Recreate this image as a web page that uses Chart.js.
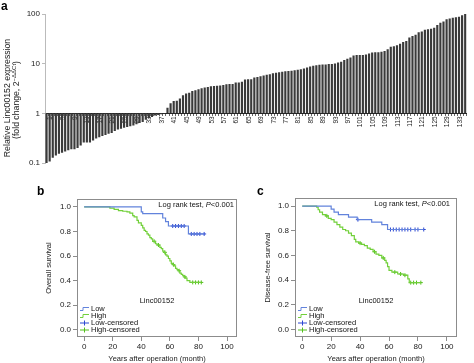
<!DOCTYPE html>
<html lang="en">
<head>
<meta charset="utf-8">
<title>Linc00152 expression and survival</title>
<script src="https://cdn.jsdelivr.net/npm/chart.js@4.4.1/dist/chart.umd.min.js"></script>
<style>
  body { margin: 0; background: #fff; font-family: "Liberation Sans", Arial, sans-serif; }
  #wrap { position: relative; width: 474px; height: 363px; overflow: hidden; }
  canvas { position: absolute; }
  .tag { position: absolute; font-weight: bold; font-size: 12px; line-height: 12px; color: #000; }
</style>
</head>
<body>
<div id="wrap">
  <canvas id="barChart" width="474" height="170" style="left:0;top:0"></canvas>
  <canvas id="osChart" width="242" height="183" style="left:0;top:180px"></canvas>
  <canvas id="dfsChart" width="234" height="183" style="left:240px;top:180px"></canvas>
  <div class="tag" style="left:1px;top:0px">a</div>
  <div class="tag" style="left:37px;top:185px">b</div>
  <div class="tag" style="left:257px;top:185px">c</div>
</div>

<script>
// ---- panel a: relative expression per patient (log scale) ----
const barLabels = [];
for (let i = 1; i <= 136; i++) barLabels.push(String(i));

const barValues = [
  0.10, 0.107, 0.127, 0.142, 0.153, 0.16, 0.17, 0.18, 0.19, 0.19,
  0.20, 0.226, 0.26, 0.26, 0.26, 0.285, 0.31, 0.33, 0.35, 0.365,
  0.39, 0.40, 0.44, 0.47, 0.49, 0.51, 0.53, 0.55, 0.57, 0.60,
  0.64, 0.67, 0.74, 0.80, 0.84, 0.90, 0.93, 0.96, 0.98, 1.3,
  1.6, 1.77, 1.8, 1.98, 2.3, 2.5, 2.6, 2.8, 2.9, 3.05,
  3.2, 3.3, 3.4, 3.5, 3.55, 3.6, 3.65, 3.7, 3.85, 3.9,
  3.9, 4.2, 4.2, 4.3, 4.8, 4.85, 4.85, 5.25, 5.4, 5.6,
  5.8, 5.95, 6.1, 6.4, 6.6, 6.7, 6.9, 7.0, 7.1, 7.2,
  7.4, 7.5, 7.7, 8.0, 8.4, 8.8, 9.1, 9.3, 9.5, 9.6,
  9.6, 9.8, 9.9, 10.1, 10.5, 10.9, 11.8, 12.5, 13.3, 14.6,
  15.0, 15.0, 15.0, 15.3, 16.0, 16.8, 17, 17, 17.3, 18,
  19.6, 21.8, 22.5, 23.6, 25.2, 27.3, 28.5, 33.8, 35.9, 38,
  43, 44.5, 48, 49.5, 50.5, 52.7, 60, 66.6, 71, 78.5,
  81, 84, 86, 88, 94, 100
];
const barTicks = [0.1, 1, 10, 100];

// ---- panels b and c: Kaplan-Meier curves ----
const monthTicks = [0, 20, 40, 60, 80, 100];
const survTicks = [0, 0.2, 0.4, 0.6, 0.8, 1.0];

// b: overall survival
const osLowMonths = [0, 40, 41, 55, 57, 59, 73, 84];
const osLowSurv = [1.0, 0.96, 0.945, 0.91, 0.88, 0.845, 0.78, 0.78];
const osHighMonths = [0, 18, 21, 24, 27, 30, 32, 34, 35, 37, 38, 40, 41, 42, 43, 44, 45, 46, 47, 48,
  50, 51, 53, 54, 55, 56, 57, 58, 59, 60, 61, 62, 63, 64, 65, 66, 67, 68, 69, 70, 71, 72, 74, 82];
const osHighSurv = [1.0, 0.99, 0.98, 0.97, 0.965, 0.96, 0.95, 0.93, 0.92, 0.89, 0.87, 0.85, 0.83, 0.81, 0.80, 0.78, 0.77, 0.75, 0.74, 0.72,
  0.70, 0.69, 0.67, 0.66, 0.64, 0.63, 0.61, 0.60, 0.58, 0.56, 0.54, 0.53, 0.52, 0.50, 0.49, 0.48, 0.46, 0.45, 0.44, 0.43, 0.42, 0.40, 0.385, 0.385];
const osLowCensMonths = [62, 64, 66, 68, 70, 75, 77, 79, 81, 84];
const osLowCensSurv = [0.845, 0.845, 0.845, 0.845, 0.845, 0.78, 0.78, 0.78, 0.78, 0.78];
const osHighCensMonths = [49, 52, 56.5, 62.5, 66.5, 70.5, 76, 78, 80, 82];
const osHighCensSurv = [0.72, 0.69, 0.63, 0.53, 0.48, 0.43, 0.385, 0.385, 0.385, 0.385];

// c: disease-free survival
const dfsLowMonths = [0, 20, 22, 25, 32, 38, 48, 55, 59, 84];
const dfsLowSurv = [1.0, 0.975, 0.95, 0.93, 0.91, 0.89, 0.87, 0.85, 0.81, 0.81];
const dfsHighMonths = [0, 10, 11, 12, 14, 16, 18, 20, 22, 24, 26, 28, 30, 32, 34, 36, 37, 39, 41, 43,
  45, 47, 49, 51, 53, 55, 57, 58, 59, 60, 62, 66, 70, 73, 74, 82];
const dfsHighSurv = [1.0, 0.99, 0.97, 0.95, 0.93, 0.92, 0.90, 0.89, 0.87, 0.85, 0.83, 0.81, 0.80, 0.78, 0.76, 0.73, 0.71, 0.70, 0.69, 0.68,
  0.66, 0.65, 0.63, 0.61, 0.60, 0.58, 0.56, 0.54, 0.51, 0.48, 0.465, 0.45, 0.44, 0.41, 0.38, 0.38];
const dfsLowCensMonths = [38.5, 61, 63, 65, 67, 69, 71, 73, 75, 78, 80, 84];
const dfsLowCensSurv = [0.89, 0.81, 0.81, 0.81, 0.81, 0.81, 0.81, 0.81, 0.81, 0.81, 0.81, 0.81];
const dfsHighCensMonths = [17, 40, 50, 56, 64, 68, 71, 75, 77, 79, 82];
const dfsHighCensSurv = [0.92, 0.70, 0.63, 0.58, 0.465, 0.45, 0.44, 0.38, 0.38, 0.38, 0.38];

const lowColor = '#6283dc';
const highColor = '#72d03a';
const lowCensColor = '#2b47d2';
const highCensColor = '#52bf1c';
const FONT = '"Liberation Sans", Arial, sans-serif';

Chart.defaults.font.family = FONT;
Chart.defaults.color = '#222';

// y title of panel a, with the superscript exponent
const expTitle = {
  id: 'expTitle',
  afterDraw(chart) {
    const ctx = chart.ctx;
    ctx.save();
    ctx.fillStyle = '#222';
    ctx.textBaseline = 'middle';
    ctx.textAlign = 'center';
    ctx.translate(8, 98);
    ctx.rotate(-Math.PI / 2);
    ctx.font = '8.7px ' + FONT;
    ctx.fillText('Relative Linc00152 expression', 0, 0);
    ctx.restore();

    ctx.save();
    ctx.fillStyle = '#222';
    ctx.textBaseline = 'middle';
    ctx.textAlign = 'left';
    ctx.translate(17, 100);
    ctx.rotate(-Math.PI / 2);
    const big = '8.7px ' + FONT, small = '6px ' + FONT;
    ctx.font = big;
    const w1 = ctx.measureText('(fold change, 2').width;
    const w3 = ctx.measureText(')').width;
    ctx.font = small;
    const w2 = ctx.measureText('\u2212\u0394\u0394Ct').width;
    let x = -(w1 + w2 + w3) / 2;
    ctx.font = big;
    ctx.fillText('(fold change, 2', x, 0);
    x += w1;
    ctx.font = small;
    ctx.fillText('\u2212\u0394\u0394Ct', x, -3);
    x += w2;
    ctx.font = big;
    ctx.fillText(')', x, 0);
    ctx.restore();
  }
};

new Chart(document.getElementById('barChart'), {
  type: 'bar',
  data: {
    labels: barLabels,
    datasets: [{
      data: barValues.map(v => [1, v]),
      backgroundColor: '#3a3a3a',
      borderWidth: 0,
      barPercentage: 0.7,
      categoryPercentage: 1.0
    }]
  },
  options: {
    responsive: false,
    animation: false,
    events: [],
    layout: { padding: { left: 0, top: 14, right: 0, bottom: 7 } },
    plugins: { legend: { display: false }, tooltip: { enabled: false } },
    scales: {
      x: {
        type: 'category',
        position: { y: 1 },
        grid: { display: true, drawOnChartArea: false, tickLength: 2, color: '#666' },
        border: { color: '#222' },
        ticks: {
          autoSkip: false,
          minRotation: 90,
          maxRotation: 90,
          padding: 1,
          font: { size: 6.5 },
          color: '#222',
          showLabelBackdrop: true,
          backdropColor: '#fff',
          backdropPadding: 0,
          callback: (v, i) => (i % 4 === 0 ? barLabels[i] : '')
        }
      },
      y: {
        type: 'logarithmic',
        min: 0.1,
        max: 100,
        afterBuildTicks: s => { s.ticks = barTicks.map(v => ({ value: v })); },
        afterFit: s => { s.width = 45; },
        grid: { display: true, drawOnChartArea: false, tickLength: 3, color: '#bbb' },
        border: { color: '#bbb' },
        ticks: { font: { size: 8 }, color: '#222', padding: 2, callback: v => String(v) }
      }
    }
  },
  plugins: [expTitle]
});

// frame, log rank note, label and legend of the survival panels
const kmDecor = {
  id: 'kmDecor',
  afterDraw(chart, args, o) {
    const ctx = chart.ctx;
    const a = chart.chartArea;
    ctx.save();
    ctx.strokeStyle = '#8c8c8c';
    ctx.lineWidth = 1;
    ctx.strokeRect(Math.round(a.left) + 0.5, Math.round(a.top) + 0.5,
      Math.round(a.right - a.left) - 1, Math.round(a.bottom - a.top) - 1);

    ctx.fillStyle = '#111';
    ctx.textBaseline = 'middle';
    ctx.textAlign = 'left';
    const normal = '7.5px ' + FONT, italic = 'italic 7.5px ' + FONT;
    ctx.font = normal;
    const w1 = ctx.measureText('Log rank test, ').width;
    const w3 = ctx.measureText('<0.001').width;
    ctx.font = italic;
    const w2 = ctx.measureText('P').width;
    let x = a.right - o.logRight - (w1 + w2 + w3);
    const y = a.top + 6;
    ctx.font = normal;
    ctx.fillText('Log rank test, ', x, y);
    x += w1;
    ctx.font = italic;
    ctx.fillText('P', x, y);
    x += w2;
    ctx.font = normal;
    ctx.fillText('<0.001', x, y);

    ctx.textAlign = 'center';
    ctx.fillText('Linc00152', (a.left + a.right) / 2, a.bottom - 36);

    const rows = [
      { text: 'Low', color: lowColor, cens: false },
      { text: 'High', color: highColor, cens: false },
      { text: 'Low-censored', color: lowCensColor, cens: true },
      { text: 'High-censored', color: highCensColor, cens: true }
    ];
    ctx.textAlign = 'left';
    rows.forEach((r, i) => {
      const ry = a.bottom - 28 + i * 7;
      const x0 = a.left + 3;
      ctx.strokeStyle = r.color;
      ctx.lineWidth = 1;
      ctx.beginPath();
      if (r.cens) {
        ctx.moveTo(x0, ry);
        ctx.lineTo(x0 + 9, ry);
        ctx.moveTo(x0 + 4.5, ry - 2.5);
        ctx.lineTo(x0 + 4.5, ry + 2.5);
      } else {
        ctx.moveTo(x0, ry + 1.5);
        ctx.lineTo(x0 + 3, ry + 1.5);
        ctx.lineTo(x0 + 3, ry - 1.5);
        ctx.lineTo(x0 + 9, ry - 1.5);
      }
      ctx.stroke();
      ctx.fillStyle = '#111';
      ctx.fillText(r.text, a.left + 14, ry);
    });
    ctx.restore();
  }
};

function toPoints(xs, ys) {
  return xs.map((x, i) => ({ x: x, y: ys[i] }));
}

function drawKM(canvasId, s) {
  return new Chart(document.getElementById(canvasId), {
    type: 'scatter',
    data: {
      datasets: [
        { label: 'Low', data: toPoints(s.lowT, s.lowS), showLine: true, stepped: true,
          borderColor: lowColor, borderWidth: 1.2, pointRadius: 0 },
        { label: 'High', data: toPoints(s.highT, s.highS), showLine: true, stepped: true,
          borderColor: highColor, borderWidth: 1.2, pointRadius: 0 },
        { label: 'Low-censored', data: toPoints(s.lowCT, s.lowCS), pointStyle: 'cross',
          pointRadius: 2, borderColor: lowCensColor, borderWidth: 1 },
        { label: 'High-censored', data: toPoints(s.highCT, s.highCS), pointStyle: 'cross',
          pointRadius: 2, borderColor: highCensColor, borderWidth: 1 }
      ]
    },
    options: {
      responsive: false,
      animation: false,
      events: [],
      layout: { padding: s.padding },
      plugins: {
        legend: { display: false },
        tooltip: { enabled: false },
        kmDecor: { logRight: s.logRight }
      },
      scales: {
        x: {
          type: 'linear',
          min: -5,
          max: 107,
          afterBuildTicks: sc => { sc.ticks = monthTicks.map(v => ({ value: v })); },
          afterFit: sc => { sc.height = 26; },
          grid: { drawOnChartArea: false, tickLength: 4, color: '#8c8c8c' },
          border: { display: false },
          ticks: { font: { size: 8 }, color: '#222', padding: 1, maxRotation: 0 },
          title: { display: true, text: 'Years after operation (month)', font: { size: 7.5 },
            color: '#222', padding: { top: 0, bottom: 0 } }
        },
        y: {
          min: -0.06,
          max: 1.065,
          afterBuildTicks: sc => { sc.ticks = survTicks.map(v => ({ value: v })); },
          afterFit: sc => { sc.width = s.yWidth; },
          grid: { drawOnChartArea: false, tickLength: 4, color: '#8c8c8c' },
          border: { display: false },
          ticks: { font: { size: 8 }, color: '#222', padding: 2, callback: v => v.toFixed(1) },
          title: { display: true, text: s.yTitle, font: { size: 7.5 }, color: '#222',
            padding: { top: 4, bottom: 0 } }
        }
      }
    },
    plugins: [kmDecor]
  });
}

drawKM('osChart', {
  lowT: osLowMonths, lowS: osLowSurv, highT: osHighMonths, highS: osHighSurv,
  lowCT: osLowCensMonths, lowCS: osLowCensSurv, highCT: osHighCensMonths, highCS: osHighCensSurv,
  yTitle: 'Overall survival', yWidth: 37, logRight: 3,
  padding: { left: 40, right: 2, top: 19, bottom: 0 }
});

drawKM('dfsChart', {
  lowT: dfsLowMonths, lowS: dfsLowSurv, highT: dfsHighMonths, highS: dfsHighSurv,
  lowCT: dfsLowCensMonths, lowCS: dfsLowCensSurv, highCT: dfsHighCensMonths, highCS: dfsHighCensSurv,
  yTitle: 'Disease-free survival', yWidth: 36, logRight: 7,
  padding: { left: 19, right: 17, top: 18, bottom: 0 }
});
</script>
</body>
</html>
